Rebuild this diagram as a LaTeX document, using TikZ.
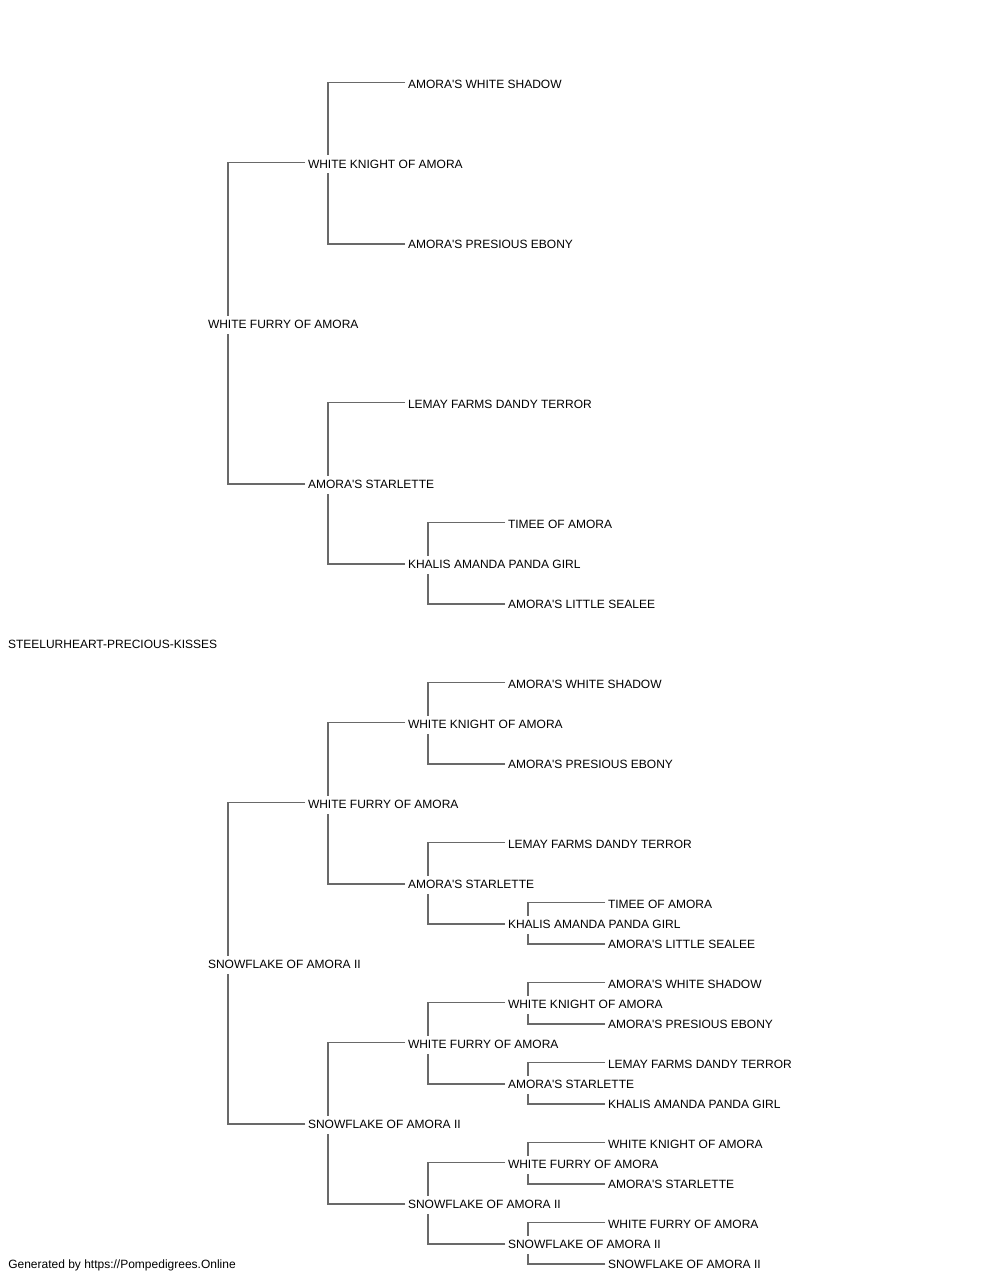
\documentclass[tikz,border=0pt]{standalone}
\usepackage{fontspec}
\setmainfont{Liberation Sans}[Ligatures=TeXOff]
\usetikzlibrary{calc}
\tikzset{
  lbl/.style={anchor=west, inner sep=0pt, outer sep=0pt, text height=6.45pt, text depth=0pt,
    yshift=-0.75pt, font=\fontsize{9pt}{10pt}\selectfont, text=black},
  conn/.style={draw={rgb,255:red,105;green,105;blue,105}, line width=1pt},
}
\newcommand\pedlink[3]{%
  \draw[conn] ($(#2.west)+(-3,-2)$) -| ($(#1.west)+(20,-9)$);
  \draw[conn] ($(#3.west)+(-3,-0.5)$) -| ($(#1.west)+(20,9)$);
}
\begin{document}
\begin{tikzpicture}[x=0.75pt, y=-0.75pt]
\useasboundingbox[fill=white] (0,0) rectangle (1000,1280);
% generation 0
\node[lbl] (r) at (8,643.5) {STEELURHEART-PRECIOUS-KISSES};
% generation 1
\node[lbl] (a1) at (208,323.5) {WHITE FURRY OF AMORA};
\node[lbl] (a2) at (208,963.5) {SNOWFLAKE OF AMORA II};
% generation 2
\node[lbl] (b1) at (308,163.5) {WHITE KNIGHT OF AMORA};
\node[lbl] (b2) at (308,483.5) {AMORA'S STARLETTE};
\node[lbl] (b3) at (308,803.5) {WHITE FURRY OF AMORA};
\node[lbl] (b4) at (308,1123.5) {SNOWFLAKE OF AMORA II};
% generation 3
\node[lbl] (c1) at (408,83.5) {AMORA'S WHITE SHADOW};
\node[lbl] (c2) at (408,243.5) {AMORA'S PRESIOUS EBONY};
\node[lbl] (c3) at (408,403.5) {LEMAY FARMS DANDY TERROR};
\node[lbl] (c4) at (408,563.5) {KHALIS AMANDA PANDA GIRL};
\node[lbl] (c5) at (408,723.5) {WHITE KNIGHT OF AMORA};
\node[lbl] (c6) at (408,883.5) {AMORA'S STARLETTE};
\node[lbl] (c7) at (408,1043.5) {WHITE FURRY OF AMORA};
\node[lbl] (c8) at (408,1203.5) {SNOWFLAKE OF AMORA II};
% generation 4
\node[lbl] (d1) at (508,523.5) {TIMEE OF AMORA};
\node[lbl] (d2) at (508,603.5) {AMORA'S LITTLE SEALEE};
\node[lbl] (d3) at (508,683.5) {AMORA'S WHITE SHADOW};
\node[lbl] (d4) at (508,763.5) {AMORA'S PRESIOUS EBONY};
\node[lbl] (d5) at (508,843.5) {LEMAY FARMS DANDY TERROR};
\node[lbl] (d6) at (508,923.5) {KHALIS AMANDA PANDA GIRL};
\node[lbl] (d7) at (508,1003.5) {WHITE KNIGHT OF AMORA};
\node[lbl] (d8) at (508,1083.5) {AMORA'S STARLETTE};
\node[lbl] (d9) at (508,1163.5) {WHITE FURRY OF AMORA};
\node[lbl] (d10) at (508,1243.5) {SNOWFLAKE OF AMORA II};
% generation 5
\node[lbl] (e1) at (608,903.5) {TIMEE OF AMORA};
\node[lbl] (e2) at (608,943.5) {AMORA'S LITTLE SEALEE};
\node[lbl] (e3) at (608,983.5) {AMORA'S WHITE SHADOW};
\node[lbl] (e4) at (608,1023.5) {AMORA'S PRESIOUS EBONY};
\node[lbl] (e5) at (608,1063.5) {LEMAY FARMS DANDY TERROR};
\node[lbl] (e6) at (608,1103.5) {KHALIS AMANDA PANDA GIRL};
\node[lbl] (e7) at (608,1143.5) {WHITE KNIGHT OF AMORA};
\node[lbl] (e8) at (608,1183.5) {AMORA'S STARLETTE};
\node[lbl] (e9) at (608,1223.5) {WHITE FURRY OF AMORA};
\node[lbl] (e10) at (608,1263.5) {SNOWFLAKE OF AMORA II};
% footer
\node[anchor=base west, inner sep=0pt, font=\fontsize{9pt}{10pt}\selectfont] (foot) at (8,1268.5) {Generated by https://Pompedigrees.Online};
% connectors
\pedlink{a1}{b1}{b2}
\pedlink{a2}{b3}{b4}
\pedlink{b1}{c1}{c2}
\pedlink{b2}{c3}{c4}
\pedlink{b3}{c5}{c6}
\pedlink{b4}{c7}{c8}
\pedlink{c4}{d1}{d2}
\pedlink{c5}{d3}{d4}
\pedlink{c6}{d5}{d6}
\pedlink{c7}{d7}{d8}
\pedlink{c8}{d9}{d10}
\pedlink{d6}{e1}{e2}
\pedlink{d7}{e3}{e4}
\pedlink{d8}{e5}{e6}
\pedlink{d9}{e7}{e8}
\pedlink{d10}{e9}{e10}
\end{tikzpicture}
\end{document}
